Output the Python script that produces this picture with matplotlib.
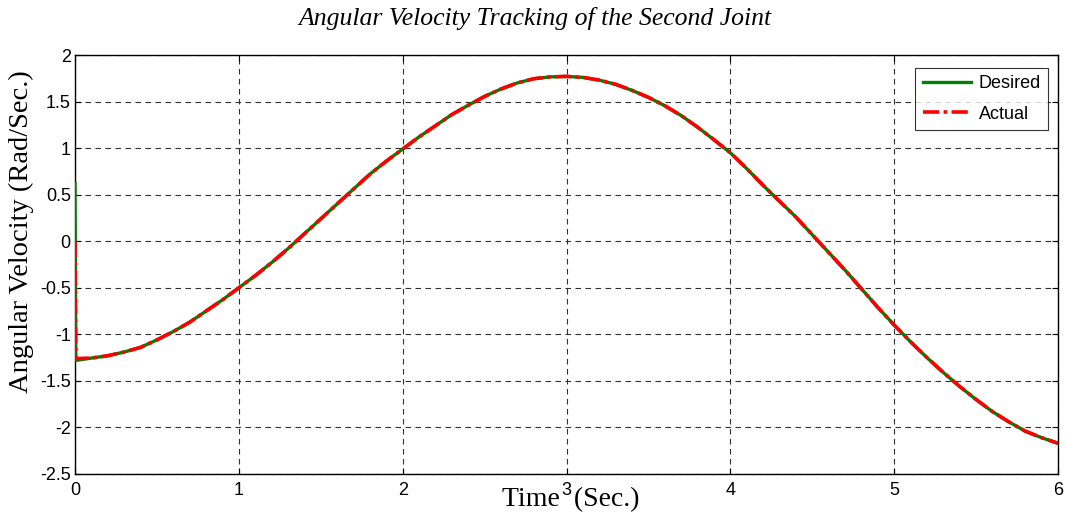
import matplotlib
matplotlib.use("Agg")
import matplotlib.pyplot as plt

# ---- data ----
time = [0.0, 0.005, 0.1, 0.2, 0.3, 0.4, 0.5, 0.6, 0.7, 0.8, 0.9, 1.0, 1.1,
        1.2, 1.3, 1.4, 1.5, 1.6, 1.7, 1.8, 1.9, 2.0, 2.1, 2.2, 2.3, 2.4, 2.5,
        2.6, 2.7, 2.8, 2.9, 3.0, 3.1, 3.2, 3.3, 3.4, 3.5, 3.6, 3.7, 3.8, 3.9,
        4.0, 4.1, 4.2, 4.3, 4.4, 4.5, 4.6, 4.7, 4.8, 4.9, 5.0, 5.1, 5.2, 5.3,
        5.4, 5.5, 5.6, 5.7, 5.8, 5.9, 6.0]
desired = [0.62, -1.28, -1.255, -1.23, -1.19, -1.14, -1.06, -0.97, -0.87,
           -0.75, -0.63, -0.50, -0.37, -0.23, -0.08, 0.08, 0.24, 0.40, 0.56,
           0.72, 0.86, 0.99, 1.12, 1.24, 1.36, 1.46, 1.555, 1.635, 1.70,
           1.745, 1.765, 1.77, 1.76, 1.73, 1.685, 1.62, 1.545, 1.455, 1.35,
           1.225, 1.09, 0.95, 0.78, 0.60, 0.43, 0.26, 0.07, -0.12, -0.31,
           -0.51, -0.71, -0.90, -1.08, -1.25, -1.41, -1.56, -1.70, -1.83,
           -1.94, -2.04, -2.11, -2.17]
actual = [0.0, -1.26, -1.255, -1.23, -1.19, -1.14, -1.06, -0.97, -0.87,
          -0.75, -0.63, -0.50, -0.37, -0.23, -0.08, 0.08, 0.24, 0.40, 0.56,
          0.72, 0.86, 0.99, 1.12, 1.24, 1.36, 1.46, 1.555, 1.635, 1.70,
          1.745, 1.765, 1.77, 1.76, 1.73, 1.685, 1.62, 1.545, 1.455, 1.35,
          1.225, 1.09, 0.95, 0.78, 0.60, 0.43, 0.26, 0.07, -0.12, -0.31,
          -0.51, -0.71, -0.90, -1.08, -1.25, -1.41, -1.56, -1.70, -1.83,
          -1.94, -2.04, -2.11, -2.17]
xticks = [0, 1, 2, 3, 4, 5, 6]
yticks = [-2.5, -2, -1.5, -1, -0.5, 0, 0.5, 1, 1.5, 2]
ytick_labels = ["-2.5", "-2", "-1.5", "-1", "-0.5", "0", "0.5", "1", "1.5", "2"]

W, H = 1066, 522
fig = plt.figure(figsize=(W / 100, H / 100), dpi=100)
ax = fig.add_axes([75 / W, (H - 474) / H, (1058 - 75) / W, (474 - 55) / H])

ax.plot(time, desired, color="#008000", lw=2.4, solid_joinstyle="round",
        label="Desired", zorder=3)
ax.plot(time, actual, color="#ff0000", lw=2.6, dashes=(4.5, 1.2, 1.0, 1.2),
        label="Actual", zorder=4)

ax.set_xlim(0, 6)
ax.set_ylim(-2.5, 2)
ax.set_xticks(xticks)
ax.set_yticks(yticks)
ax.set_yticklabels(ytick_labels)

sans = ["Liberation Sans", "DejaVu Sans"]
serif = ["Liberation Serif", "DejaVu Serif"]
for lab in ax.get_xticklabels() + ax.get_yticklabels():
    lab.set_fontfamily(sans)
    lab.set_fontsize(13)

ax.tick_params(direction="in", length=4, width=0.8, top=True, right=True,
               colors="black")
ax.tick_params(axis="x", pad=6)
ax.tick_params(axis="y", pad=3)
ax.grid(True, color="#303030", linestyle=(0, (5, 4)), linewidth=0.8)
ax.set_axisbelow(True)
for s in ax.spines.values():
    s.set_linewidth(1.0)
    s.set_color("black")

fig.text(535 / W, 1 - 18 / H, "Angular Velocity Tracking of the Second Joint",
         family=serif, style="italic", fontsize=18.5, ha="center", va="center")
ax.set_xlabel("Time  (Sec.)", family=serif, fontsize=20)
ax.xaxis.set_label_coords((571 - 75) / 983, (474 - 487) / 419)
ax.set_ylabel("Angular Velocity (Rad/Sec.)", family=serif, fontsize=20.5)
ax.yaxis.set_label_coords((34 - 75) / 983, (474 - 232) / 419)

leg = ax.legend(loc="upper right", bbox_to_anchor=(1 - 10 / 983, 1 - 13 / 419),
                prop={"family": sans, "size": 13}, frameon=True, fancybox=False,
                edgecolor="black", borderpad=0.4, handlelength=2.7,
                labelspacing=0.75, handletextpad=0.4, borderaxespad=0)
leg.get_frame().set_linewidth(0.8)

fig.savefig("out.png", dpi=100)
